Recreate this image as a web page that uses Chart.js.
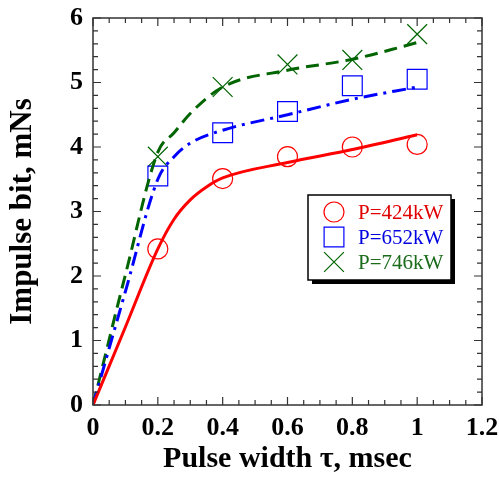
<!DOCTYPE html>
<html><head><meta charset="utf-8">
<script src="https://cdn.jsdelivr.net/npm/chart.js@4/dist/chart.umd.min.js"></script>
<style>html,body{margin:0;padding:0;background:#fff}#wrap{width:499px;height:477px}</style>
</head><body><div id="wrap"><canvas id="c" width="499" height="477"></canvas></div>
<script>
// measured data
const tau = [0.2, 0.4, 0.6, 0.8, 1.0];
const bit424 = [2.42, 3.51, 3.85, 4.00, 4.04];
const bit652 = [3.55, 4.22, 4.55, 4.95, 5.05];
const bit746 = [3.85, 4.93, 5.28, 5.35, 5.75];
// fitted curves
const fitTau424 = [0, 0.1, 0.2, 0.25, 0.3, 0.35, 0.4, 0.6, 0.8, 1.0];
const fit424 = [0, 1.21, 2.42, 2.88, 3.18, 3.38, 3.52, 3.76, 3.96, 4.19];
const fitTau652 = [0, 0.1, 0.2, 0.25, 0.3, 0.4, 0.6, 0.8, 1.0];
const fit652 = [0, 1.76, 3.50, 3.85, 4.06, 4.26, 4.50, 4.74, 4.93];
const fitTau746 = [0, 0.1, 0.2, 0.25, 0.3, 0.4, 0.6, 0.8, 0.95, 1.0];
const fit746 = [0, 2.02, 3.92, 4.22, 4.52, 4.93, 5.19, 5.36, 5.55, 5.62];
const legendLabels = ['P=424kW', 'P=652kW', 'P=746kW'];
const colors = ['#ff0000', '#0000ff', '#006400'];
const textColors = ['#e00000', '#0000e0', '#1a6b1a'];
const xTicks = [0, 0.2, 0.4, 0.6, 0.8, 1, 1.2];
const yTicks = [0, 1, 2, 3, 4, 5, 6];

const SERIF = '"Liberation Serif", "Times New Roman", serif';
const pts = (xs, ys) => xs.map((x, i) => ({x: x, y: ys[i]}));
const zeroPad = s => { s.paddingTop = 0; s.paddingBottom = 0; s.paddingLeft = 0; s.paddingRight = 0; };

const frameTicks = {
  id: 'frameTicks',
  afterDraw(chart) {
    const {ctx, chartArea: a, scales: {x, y}} = chart;
    ctx.save();
    ctx.strokeStyle = '#333';
    ctx.lineWidth = 1.5;
    ctx.strokeRect(a.left, a.top, a.right - a.left, a.bottom - a.top);
    ctx.lineWidth = 1.2;
    ctx.beginPath();
    for (let i = 0; i <= 24; i++) {
      const v = i * 0.05;
      const px = x.getPixelForValue(v);
      const len = (i % 4 === 0) ? 8 : 5;
      ctx.moveTo(px, a.bottom); ctx.lineTo(px, a.bottom - len);
      ctx.moveTo(px, a.top); ctx.lineTo(px, a.top + len);
    }
    for (let i = 0; i <= 30; i++) {
      const v = i * 0.2;
      const py = y.getPixelForValue(v);
      const len = (i % 5 === 0) ? 8 : 5;
      ctx.moveTo(a.left, py); ctx.lineTo(a.left + len, py);
      ctx.moveTo(a.right, py); ctx.lineTo(a.right - len, py);
    }
    ctx.stroke();

    // legend box
    const bx = 308, by = 195, bw = 143, bh = 85;
    ctx.fillStyle = '#000';
    ctx.fillRect(bx + 4, by + 4, bw, bh);
    ctx.fillStyle = '#fff';
    ctx.fillRect(bx, by, bw, bh);
    ctx.strokeStyle = '#000';
    ctx.lineWidth = 1.5;
    ctx.strokeRect(bx, by, bw, bh);
    const styles = ['circle', 'rect', 'crossRot'];
    for (let i = 0; i < 3; i++) {
      const cy = by + 17 + i * 25;
      const cx = bx + 26;
      ctx.strokeStyle = colors[i];
      ctx.fillStyle = 'rgba(0,0,0,0)';
      ctx.lineWidth = 1.2;
      Chart.helpers.drawPoint(ctx, {pointStyle: styles[i], radius: i === 0 ? 10 : 14, borderWidth: 1.2}, cx, cy);
      ctx.fillStyle = textColors[i];
      ctx.font = '21px ' + SERIF;
      ctx.textBaseline = 'middle';
      ctx.textAlign = 'left';
      ctx.fillText(legendLabels[i], bx + 50, cy + 1);
    }
    ctx.restore();
  }
};

new Chart(document.getElementById('c'), {
  type: 'scatter',
  data: {
    datasets: [
      {data: pts(fitTau424, fit424), showLine: true, borderColor: colors[0], borderWidth: 3, pointRadius: 0, cubicInterpolationMode: 'monotone', fill: false},
      {data: pts(fitTau652, fit652), showLine: true, borderColor: colors[1], borderWidth: 3, borderDash: [14, 6, 3, 6], pointRadius: 0, cubicInterpolationMode: 'monotone', fill: false},
      {data: pts(fitTau746, fit746), showLine: true, borderColor: colors[2], borderWidth: 3, borderDash: [13, 7], pointRadius: 0, cubicInterpolationMode: 'monotone', fill: false},
      {data: pts(tau, bit424), showLine: false, pointStyle: 'circle', pointRadius: 10, borderColor: colors[0], backgroundColor: 'rgba(0,0,0,0)', borderWidth: 1.2},
      {data: pts(tau, bit652), showLine: false, pointStyle: 'rect', pointRadius: 14, borderColor: colors[1], backgroundColor: 'rgba(0,0,0,0)', borderWidth: 1.2},
      {data: pts(tau, bit746), showLine: false, pointStyle: 'crossRot', pointRadius: 14, borderColor: colors[2], backgroundColor: 'rgba(0,0,0,0)', borderWidth: 1.2}
    ]
  },
  options: {
    responsive: false,
    animation: false,
    devicePixelRatio: 1,
    layout: {padding: {top: 18, right: 17, left: 0, bottom: 0}},
    plugins: {legend: {display: false}, tooltip: {enabled: false}},
    scales: {
      x: {
        type: 'linear', min: 0, max: 1.2,
        afterFit: s => { s.height = 72; zeroPad(s); },
        afterBuildTicks: s => { s.ticks = xTicks.map(v => ({value: v})); },
        grid: {display: false, drawTicks: false},
        border: {display: false},
        ticks: {color: '#000', font: {family: SERIF, size: 26, weight: 'bold'}, padding: 8, maxRotation: 0,
          callback: v => String(Math.round(v * 10) / 10)},
        title: {display: true, text: 'Pulse width τ, msec', color: '#000', font: {family: SERIF, size: 30, weight: 'bold'}, padding: {top: 0, bottom: 0}}
      },
      y: {
        type: 'linear', min: 0, max: 6,
        afterFit: s => { s.width = 93; zeroPad(s); },
        afterBuildTicks: s => { s.ticks = yTicks.map(v => ({value: v})); },
        grid: {display: false, drawTicks: false},
        border: {display: false},
        ticks: {color: '#000', font: {family: SERIF, size: 26, weight: 'bold'}, padding: 10,
          callback: v => String(v)},
        title: {display: true, text: 'Impulse bit, mNs', color: '#000', font: {family: SERIF, size: 31, weight: 'bold'}, padding: {top: 4, bottom: 4}}
      }
    }
  },
  plugins: [frameTicks]
});
</script></body></html>
